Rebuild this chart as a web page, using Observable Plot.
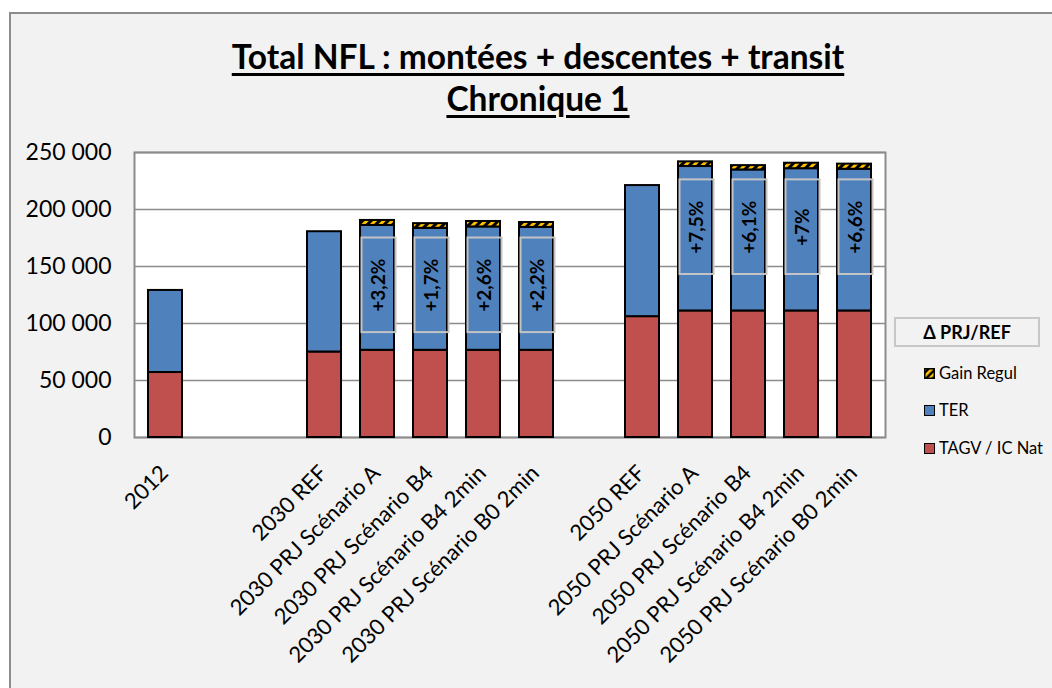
<!DOCTYPE html>
<html>
<head>
<meta charset="utf-8">
<script src="https://cdn.jsdelivr.net/npm/d3@7"></script>
<script src="https://cdn.jsdelivr.net/npm/@observablehq/plot@0.6"></script>
<style>
  html, body { margin: 0; padding: 0; background: #fff; width: 1052px; height: 688px; overflow: hidden; font-family: Lato, "Open Sans", sans-serif; }
  #frame { position: absolute; left: 9px; top: 12px; width: 1080px; height: 720px; background: #f2f2f2; border: 2px solid #8c8c8c; box-sizing: border-box; }
  #chart { position: absolute; left: 0; top: 0; }
  .title { position: absolute; left: 0; width: 1076px; text-align: center; font-weight: 700; font-size: 33.5px; line-height: 42px; text-decoration: underline; text-decoration-thickness: 2.5px; text-underline-offset: 4px; color: #000; }
  #lgbox { position: absolute; left: 894px; top: 317px; width: 146px; height: 30px; box-sizing: border-box; border: 2px solid #c8c8c8; font-weight: 700; font-size: 18px; line-height: 26px; text-align: center; }
  .lgitem { position: absolute; left: 924px; font-size: 16.5px; line-height: 20px; display: flex; align-items: center; }
  .sw { width: 11px; height: 11px; box-sizing: border-box; border: 1.5px solid #000; margin-right: 4px; }
</style>
</head>
<body>
<div id="frame"></div>
<div id="chart"></div>
<div class="title" style="top:35px">Total NFL : montées + descentes + transit</div>
<div class="title" style="top:77px">Chronique 1</div>
<div id="lgbox">Δ PRJ/REF</div>
<div class="lgitem" style="top:363px"><svg class="sw" width="11" height="11" style="border:none;margin-right:4px"><defs><pattern id="hatchL" patternUnits="userSpaceOnUse" width="5" height="5" patternTransform="rotate(45)"><rect width="5" height="5" fill="#000"/><rect width="2.6" height="5" fill="#ffc000"/></pattern></defs><rect x="0.75" y="0.75" width="9.5" height="9.5" fill="url(#hatchL)" stroke="#000" stroke-width="1.5"/></svg>Gain Regul</div>
<div class="lgitem" style="top:400px"><div class="sw" style="background:#4f81bd"></div>TER</div>
<div class="lgitem" style="top:438px"><div class="sw" style="background:#c0504d"></div>TAGV / IC Nat</div>
<script>
// ---- data ----
const categories = ["2012", " ", "  ", "2030 REF", "2030 PRJ Scénario A", "2030 PRJ Scénario B4", "2030 PRJ Scénario B4 2min", "2030 PRJ Scénario B0 2min", "   ", "2050 REF", "2050 PRJ Scénario A", "2050 PRJ Scénario B4", "2050 PRJ Scénario B4 2min", "2050 PRJ Scénario B0 2min"];
const barCats = ["2012", "2030 REF", "2030 PRJ Scénario A", "2030 PRJ Scénario B4", "2030 PRJ Scénario B4 2min", "2030 PRJ Scénario B0 2min", "2050 REF", "2050 PRJ Scénario A", "2050 PRJ Scénario B4", "2050 PRJ Scénario B4 2min", "2050 PRJ Scénario B0 2min"];
const tagv = [57000, 75000, 76500, 76500, 76500, 76500, 106000, 111000, 111000, 111000, 111000];
const ter = [72000, 105500, 109500, 107000, 108200, 107800, 115000, 126700, 123700, 124800, 124300];
const gainRegul = [0, 0, 4400, 4100, 4800, 4300, 0, 4100, 3800, 4800, 4500];
const seriesNames = ["TAGV / IC Nat", "TER", "Gain Regul"];
const seriesColors = ["#c0504d", "#4f81bd", "url(#hatch)"];
const pctCats = ["2030 PRJ Scénario A", "2030 PRJ Scénario B4", "2030 PRJ Scénario B4 2min", "2030 PRJ Scénario B0 2min", "2050 PRJ Scénario A", "2050 PRJ Scénario B4", "2050 PRJ Scénario B4 2min", "2050 PRJ Scénario B0 2min"];
const pctLabels = ["+3,2%", "+1,7%", "+2,6%", "+2,2%", "+7,5%", "+6,1%", "+7%", "+6,6%"];
const pctBoxLow = [92000, 92000, 92000, 92000, 143000, 143000, 143000, 143000];
const pctBoxHigh = [175000, 175000, 175000, 175000, 226000, 226000, 226000, 226000];
const yTicks = [0, 50000, 100000, 150000, 200000, 250000];

// ---- build tables ----
const series = [tagv, ter, gainRegul];
const long = [];
barCats.forEach((c, i) => series.forEach((s, k) => { if (s[i] > 0) long.push({cat: c, series: seriesNames[k], value: s[i]}); }));
const boxes = pctCats.map((c, i) => ({cat: c, lo: pctBoxLow[i], hi: pctBoxHigh[i], mid: (pctBoxLow[i] + pctBoxHigh[i]) / 2, label: pctLabels[i]}));
const fmt = d => d3.format(",")(d).replace(/,/g, " ");

const chart = Plot.plot({
  width: 1052,
  height: 688,
  marginLeft: 134,
  marginRight: 167,
  marginTop: 152,
  marginBottom: 251,
  style: {background: "transparent", fontFamily: "Lato, sans-serif", color: "#000", overflow: "visible"},
  x: {domain: categories, paddingInner: 0.36, paddingOuter: 0.18, axis: null},
  y: {domain: [0, 250000], ticks: yTicks},
  color: {domain: seriesNames, range: seriesColors},
  marks: [
    Plot.frame({fill: "white", stroke: null}),
    Plot.gridY(yTicks, {stroke: "#8c8c8c", strokeOpacity: 1, strokeWidth: 1.5}),
    Plot.frame({stroke: "#8c8c8c", strokeWidth: 2}),
    Plot.barY(long, Plot.stackY({x: "cat", y: "value", fill: "series", order: seriesNames, stroke: "#000", strokeWidth: 2})),
    Plot.rect(boxes, {x: "cat", y1: "lo", y2: "hi", fill: "none", stroke: "#c4c4c4", strokeWidth: 2, dx: 1.5}),
    Plot.text(boxes, {x: "cat", y: "mid", text: "label", rotate: -90, fontWeight: 700, fontSize: 19, dx: 1.5, fill: "#000"}),
    Plot.axisY(yTicks, {tickSize: 0, tickPadding: 23, tickFormat: fmt, fontSize: 23}),
    Plot.text(barCats, {x: d => d, y: 0, text: d => d, rotate: -45, textAnchor: "end", lineAnchor: "bottom", dx: 4, dy: 37, fontSize: 22, fill: "#000"})
  ]
});
const defs = document.createElementNS("http://www.w3.org/2000/svg", "defs");
defs.innerHTML = '<pattern id="hatch" patternUnits="userSpaceOnUse" width="6" height="6" patternTransform="rotate(45)"><rect width="6" height="6" fill="#000"/><rect width="3" height="6" fill="#ffc000"/></pattern>';
chart.insertBefore(defs, chart.firstChild);
document.getElementById("chart").appendChild(chart);
</script>
</body>
</html>
